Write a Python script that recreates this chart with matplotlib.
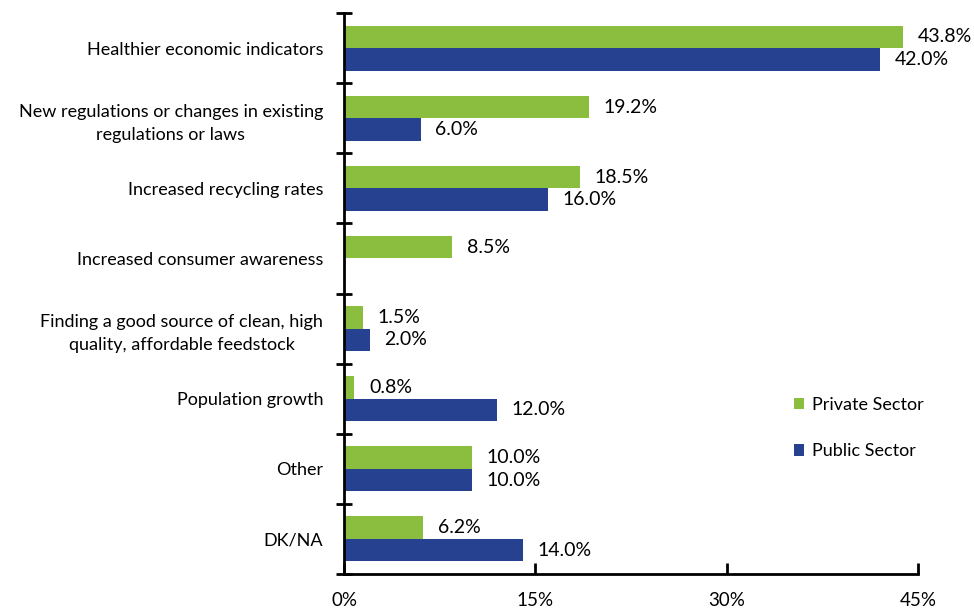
import numpy as np
import matplotlib.pyplot as plt

plt.rcParams['font.family'] = ['Lato', 'DejaVu Sans']

categories = [
    "Healthier economic indicators",
    "New regulations or changes in existing\nregulations or laws",
    "Increased recycling rates",
    "Increased consumer awareness",
    "Finding a good source of clean, high\nquality, affordable feedstock",
    "Population growth",
    "Other",
    "DK/NA",
]
private_sector = [43.8, 19.2, 18.5, 8.5, 1.5, 0.8, 10.0, 6.2]
public_sector = [42.0, 6.0, 16.0, 0.0, 2.0, 12.0, 10.0, 14.0]
x_ticks = [0, 15, 30, 45]

green = '#8BBD3F'
blue = '#26418F'

fig = plt.figure(figsize=(9.74, 6.11), dpi=100)
ax = fig.add_axes([0.3532, 0.0606, 0.5893, 0.918])

y = np.arange(len(categories))
h = 0.32
ax.barh(y - h / 2, private_sector, height=h, color=green, label='Private Sector')
ax.barh(y + h / 2, public_sector, height=h, color=blue, label='Public Sector')

# value labels, skip empty bars
for yi, v in zip(y, private_sector):
    if v > 0:
        ax.text(v + 1.15, yi - h / 2, f"{v:.1f}%", va='center', ha='left', fontsize=14)
for yi, v in zip(y, public_sector):
    if v > 0:
        ax.text(v + 1.15, yi + h / 2, f"{v:.1f}%", va='center', ha='left', fontsize=14)

ax.set_ylim(len(categories) - 0.5, -0.5)
ax.set_xlim(0, 45)

ax.set_yticks(y)
ax.set_yticklabels(categories, fontsize=13, multialignment='center')
for lbl in ax.get_yticklabels():
    lbl.set_linespacing(1.55)
ax.tick_params(axis='y', which='major', length=0, pad=15)
ax.set_yticks(np.arange(len(categories) + 1) - 0.5, minor=True)
ax.tick_params(axis='y', which='minor', direction='inout', length=11, width=2)

ax.set_xticks(x_ticks)
ax.set_xticklabels([f"{t}%" for t in x_ticks], fontsize=13.5)
ax.tick_params(axis='x', direction='in', length=8, width=2, pad=13)

for s in ['top', 'right']:
    ax.spines[s].set_visible(False)
for s in ['left', 'bottom']:
    ax.spines[s].set_linewidth(2)

ax.legend(loc='center left', bbox_to_anchor=(0.755, 0.26), frameon=False,
          fontsize=13, handlelength=0.6, handleheight=0.6, handletextpad=0.4,
          labelspacing=1.7)

fig.savefig('out.png', dpi=100)
